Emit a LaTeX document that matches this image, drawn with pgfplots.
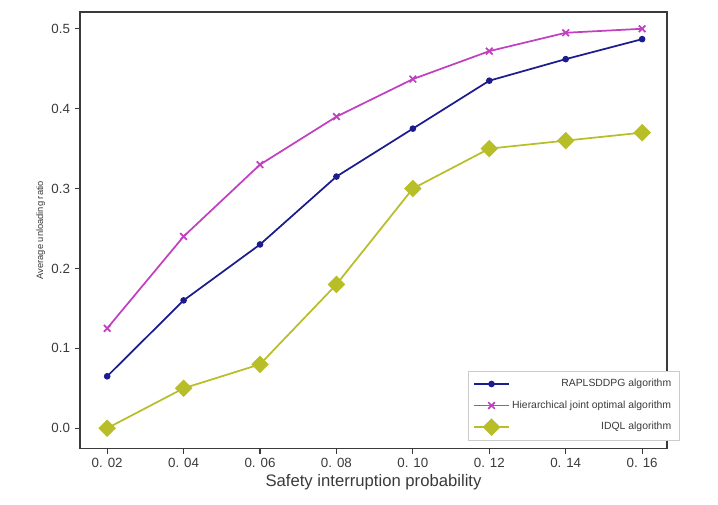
\documentclass[border=0pt]{standalone}
\usepackage{fontspec}
\setmainfont{Liberation Sans}
\usepackage{pgfplots}
\pgfplotsset{compat=1.18}
\definecolor{cnavy}{HTML}{1C1C8C}
\definecolor{cmag}{HTML}{C040C0}
\definecolor{colive}{HTML}{B8BE28}
\definecolor{cgray}{HTML}{3A3A3A}
\begin{document}
\begin{tikzpicture}
\begin{axis}[
  scale only axis,
  width=440pt, height=327pt,
  xmin=0.0129, xmax=0.1665,
  ymin=-0.025, ymax=0.521,
  xtick={0.02,0.04,0.06,0.08,0.10,0.12,0.14,0.16},
  xticklabels={0. 02,0. 04,0. 06,0. 08,0. 10,0. 12,0. 14,0. 16},
  ytick={0,0.1,0.2,0.3,0.4,0.5},
  yticklabel style={/pgf/number format/.cd,fixed,fixed zerofill,precision=1},
  /pgf/number format/assume math mode=true,
  tick align=outside, tick pos=left,
  major tick length=4pt,
  axis line style={cgray, line width=0.9pt},
  tick style={cgray, line width=0.8pt},
  ticklabel style={font=\fontsize{10}{12}\selectfont, text=cgray},
  xlabel={Safety interruption probability},
  ylabel={Average unloading ratio},
  xlabel style={font=\fontsize{12.5}{14}\selectfont, text=cgray, yshift=2pt},
  ylabel style={font=\fontsize{7}{8}\selectfont, text=cgray, yshift=-2pt},
  legend style={at={(rel axis cs:0.661,0.018)}, anchor=south west,
    draw=gray!40, font=\fontsize{7.8}{9}\selectfont, text=cgray,
    row sep=5pt, inner sep=4pt},
  legend image code/.code={
    \draw[mark repeat=2,mark phase=2] plot coordinates {(0cm,0cm) (0.45cm,0cm) (0.9cm,0cm)};},
  legend cell align=right,
]
\coordinate (sw) at (rel axis cs:0,0);
\coordinate (ne) at (rel axis cs:1,1);
\addplot[cnavy, line width=1.3pt, mark=*, mark size=1.8pt] coordinates {
 (0.02,0.065) (0.04,0.160) (0.06,0.230) (0.08,0.315) (0.10,0.375) (0.12,0.435) (0.14,0.462) (0.16,0.487)};
\addlegendentry{RAPLSDDPG algorithm}
\addplot[cmag, line width=1.3pt, mark=x, mark size=3.5pt] coordinates {
 (0.02,0.125) (0.04,0.240) (0.06,0.330) (0.08,0.390) (0.10,0.437) (0.12,0.472) (0.14,0.495) (0.16,0.500)};
\addlegendentry{Hierarchical joint optimal algorithm}
\addplot[colive, line width=1.3pt, mark=square*, mark size=4pt, mark options={rotate=45}] coordinates {
 (0.02,0.000) (0.04,0.050) (0.06,0.080) (0.08,0.180) (0.10,0.300) (0.12,0.350) (0.14,0.360) (0.16,0.370)};
\addlegendentry{IDQL algorithm}
\end{axis}
\pgfresetboundingbox
\path ([shift={(-60pt,-42pt)}]sw) rectangle ([shift={(38.25pt,9pt)}]ne);
\end{tikzpicture}
\end{document}
